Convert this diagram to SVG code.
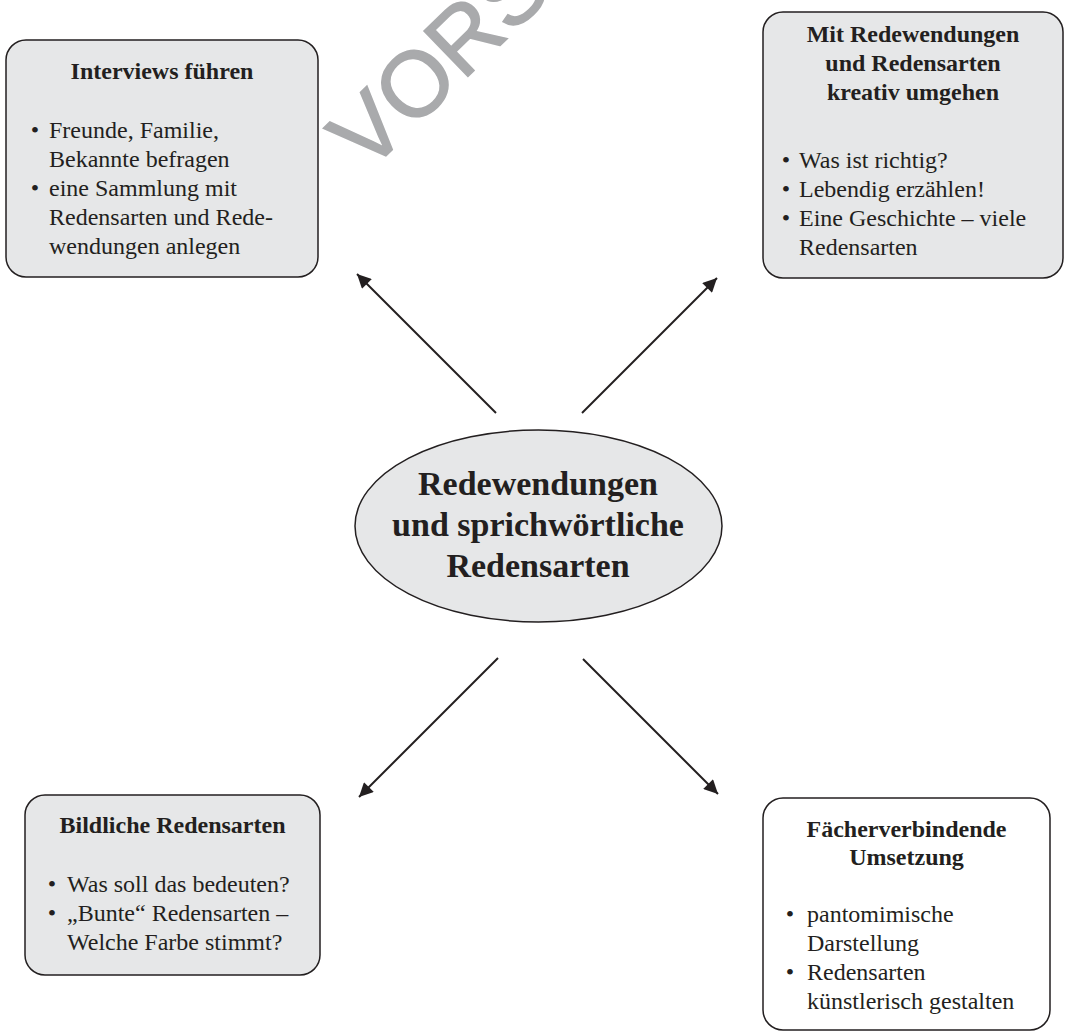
<svg xmlns="http://www.w3.org/2000/svg" width="1065" height="1034" viewBox="0 0 1065 1034">
  <style>
    .box { fill: #e6e7e8; stroke: #231f20; stroke-width: 1.5; }
    .box-white { fill: #ffffff; stroke: #231f20; stroke-width: 1.5; }
    .title { font-family: "Liberation Serif", "Times New Roman", serif; font-size: 24px; font-weight: bold; fill: #231f20; text-anchor: middle; }
    .body { font-family: "Liberation Serif", "Times New Roman", serif; font-size: 24px; fill: #231f20; }
    .bullet { font-family: "Liberation Serif", "Times New Roman", serif; font-size: 24px; fill: #231f20; text-anchor: middle; }
    .center { font-family: "Liberation Serif", "Times New Roman", serif; font-size: 34px; font-weight: bold; fill: #231f20; text-anchor: middle; }
    .conn { stroke: #231f20; stroke-width: 2; fill: none; marker-end: url(#arrow); }
    .wm { font-family: "Liberation Sans", Arial, sans-serif; font-size: 92px; fill: #a9aaac; stroke: #a9aaac; stroke-width: 1.5; }
  </style>
  <defs>
    <marker id="arrow" viewBox="0 0 10 10" refX="10" refY="5" markerWidth="9" markerHeight="7" orient="auto" markerUnits="strokeWidth">
      <path d="M0,0 L10,5 L0,10 z" fill="#231f20"/>
    </marker>
  </defs>
  <rect width="1065" height="1034" fill="#ffffff"/>

  <text class="wm" transform="translate(367,174) rotate(-44)" x="0" y="0">VORS</text>

  <g id="connectors">
    <line class="conn" x1="496" y1="413" x2="357" y2="274"/>
    <line class="conn" x1="582" y1="413" x2="717" y2="278"/>
    <line class="conn" x1="498" y1="658" x2="359" y2="797"/>
    <line class="conn" x1="583" y1="659" x2="718" y2="794"/>
  </g>

  <g id="node-interviews">
    <rect class="box" x="6" y="40" width="312" height="237" rx="20" ry="20"/>
    <text class="title" x="162" y="79">Interviews führen</text>
    <text class="bullet" x="35" y="138">•</text>
    <text class="body" x="49" y="138">Freunde, Familie,</text>
    <text class="body" x="49" y="167">Bekannte befragen</text>
    <text class="bullet" x="35" y="196">•</text>
    <text class="body" x="49" y="196">eine Sammlung mit</text>
    <text class="body" x="49" y="225">Redensarten und Rede-</text>
    <text class="body" x="49" y="254">wendungen anlegen</text>
  </g>

  <g id="node-kreativ">
    <rect class="box" x="763" y="12" width="300" height="266" rx="20" ry="20"/>
    <text class="title" x="913" y="42">Mit Redewendungen</text>
    <text class="title" x="913" y="71">und Redensarten</text>
    <text class="title" x="913" y="100">kreativ umgehen</text>
    <text class="bullet" x="786" y="168">•</text>
    <text class="body" x="799" y="168">Was ist richtig?</text>
    <text class="bullet" x="786" y="197">•</text>
    <text class="body" x="799" y="197">Lebendig erzählen!</text>
    <text class="bullet" x="786" y="226">•</text>
    <text class="body" x="799" y="226">Eine Geschichte – viele</text>
    <text class="body" x="799" y="255">Redensarten</text>
  </g>

  <g id="node-center">
    <ellipse cx="538.5" cy="526" rx="183.5" ry="96" fill="#e6e7e8" stroke="#231f20" stroke-width="1.5"/>
    <text class="center" x="538" y="495">Redewendungen</text>
    <text class="center" x="538" y="536">und sprichwörtliche</text>
    <text class="center" x="538" y="577">Redensarten</text>
  </g>

  <g id="node-bildlich">
    <rect class="box" x="25" y="795" width="295" height="180" rx="20" ry="20"/>
    <text class="title" x="172.5" y="833">Bildliche Redensarten</text>
    <text class="bullet" x="52" y="892">•</text>
    <text class="body" x="67" y="892">Was soll das bedeuten?</text>
    <text class="bullet" x="52" y="921">•</text>
    <text class="body" x="67" y="921">„Bunte“ Redensarten –</text>
    <text class="body" x="67" y="950">Welche Farbe stimmt?</text>
  </g>

  <g id="node-faecher">
    <rect class="box-white" x="763" y="798" width="287" height="232" rx="20" ry="20"/>
    <text class="title" x="906.5" y="837">Fächerverbindende</text>
    <text class="title" x="906.5" y="865">Umsetzung</text>
    <text class="bullet" x="790" y="922">•</text>
    <text class="body" x="807" y="922">pantomimische</text>
    <text class="body" x="807" y="951">Darstellung</text>
    <text class="bullet" x="790" y="980">•</text>
    <text class="body" x="807" y="980">Redensarten</text>
    <text class="body" x="807" y="1009">künstlerisch gestalten</text>
  </g>
</svg>
